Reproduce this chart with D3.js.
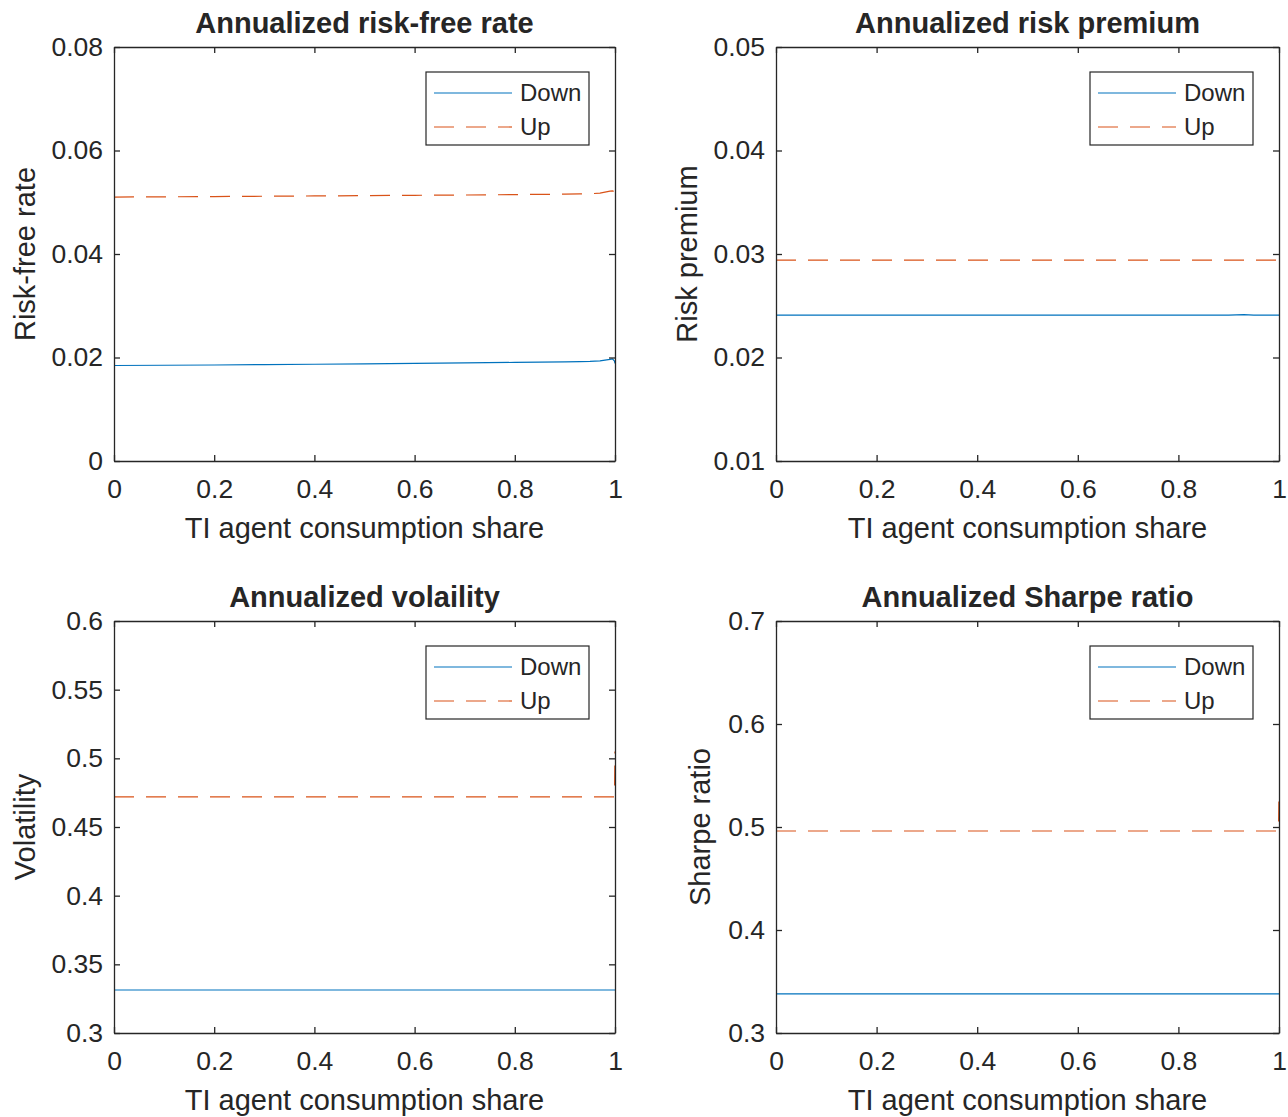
<!DOCTYPE html>
<html><head><meta charset="utf-8">
<script src="https://cdn.jsdelivr.net/npm/d3@7"></script>
<style>body{margin:0;background:#fff}svg{display:block}text{font-family:"Liberation Sans",Arial,sans-serif;fill:#262626}</style>
</head><body>
<script>
// shared x grid (TI agent consumption share)
const xShare = [0, 0.1, 0.2, 0.3, 0.4, 0.5, 0.6, 0.7, 0.8, 0.9, 0.93, 0.95, 0.97, 0.99, 0.995, 0.999, 1];

const rfDown = [0.01845, 0.01850, 0.01855, 0.01862, 0.01870, 0.01878, 0.01886, 0.01895, 0.01905, 0.01915, 0.01920, 0.01925, 0.01935, 0.01965, 0.01975, 0.01930, 0.01885];
const rfUp   = [0.05100, 0.05105, 0.05110, 0.05116, 0.05122, 0.05128, 0.05134, 0.05140, 0.05148, 0.05156, 0.05160, 0.05165, 0.05175, 0.05215, 0.05220, 0.05205, 0.05190];

const rpDown = [0.0241, 0.0241, 0.0241, 0.0241, 0.0241, 0.0241, 0.0241, 0.0241, 0.0241, 0.0241, 0.02415, 0.0241, 0.0241, 0.0241, 0.0241, 0.0241, 0.0241];
const rpUp   = [0.0294, 0.0294, 0.0294, 0.0294, 0.0294, 0.0294, 0.0294, 0.0294, 0.0294, 0.0294, 0.0294, 0.0294, 0.0294, 0.0294, 0.0294, 0.0294, 0.0294];

const volDown = [0.3313, 0.3313, 0.3313, 0.3313, 0.3313, 0.3313, 0.3313, 0.3313, 0.3313, 0.3313, 0.3313, 0.3313, 0.3313, 0.3313, 0.3313, 0.3313, 0.3313];
const volUp   = [0.4719, 0.4719, 0.4719, 0.4719, 0.4719, 0.4719, 0.4719, 0.4719, 0.4719, 0.4719, 0.4719, 0.4719, 0.4719, 0.4719, 0.4719, 0.4719, 0.5050];

const srDown = [0.3379, 0.3379, 0.3379, 0.3379, 0.3379, 0.3379, 0.3379, 0.3379, 0.3379, 0.3379, 0.3379, 0.3379, 0.3379, 0.3379, 0.3379, 0.3379, 0.3379];
const srUp   = [0.4961, 0.4961, 0.4961, 0.4961, 0.4961, 0.4961, 0.4961, 0.4961, 0.4961, 0.4961, 0.4961, 0.4961, 0.4961, 0.4961, 0.4961, 0.4961, 0.5360];

const xTicks = [0, 0.2, 0.4, 0.6, 0.8, 1];
const xTickLabels = ["0", "0.2", "0.4", "0.6", "0.8", "1"];
const rfTicks = [0, 0.02, 0.04, 0.06, 0.08];
const rfTickLabels = ["0", "0.02", "0.04", "0.06", "0.08"];
const rpTicks = [0.01, 0.02, 0.03, 0.04, 0.05];
const rpTickLabels = ["0.01", "0.02", "0.03", "0.04", "0.05"];
const volTicks = [0.3, 0.35, 0.4, 0.45, 0.5, 0.55, 0.6];
const volTickLabels = ["0.3", "0.35", "0.4", "0.45", "0.5", "0.55", "0.6"];
const srTicks = [0.3, 0.4, 0.5, 0.6, 0.7];
const srTickLabels = ["0.3", "0.4", "0.5", "0.6", "0.7"];

const seriesNames = ["Down", "Up"];
const titles = ["Annualized risk-free rate", "Annualized risk premium", "Annualized volaility", "Annualized Sharpe ratio"];
const yLabels = ["Risk-free rate", "Risk premium", "Volatility", "Sharpe ratio"];
const xLabel = "TI agent consumption share";

const W = 1288, H = 1117;
const svg = d3.select("body").append("svg").attr("width", W).attr("height", H);

const COLORS = ["#0072BD", "#D95319"];
const AX = "#262626";
const FS = 26.5;   // tick labels
const LFS = 29;    // axis labels and titles
const LEGFS = 24;

const panels = [
  {x0:114, x1:615, y0:47, y1:461, ydom:[0,0.08], yt:rfTicks, ytl:rfTickLabels, down:rfDown, up:rfUp, title:titles[0], yl:yLabels[0], ylx:25},
  {x0:776, x1:1279, y0:47, y1:461, ydom:[0.01,0.05], yt:rpTicks, ytl:rpTickLabels, down:rpDown, up:rpUp, title:titles[1], yl:yLabels[1], ylx:687},
  {x0:114, x1:615, y0:621, y1:1033, ydom:[0.3,0.6], yt:volTicks, ytl:volTickLabels, down:volDown, up:volUp, title:titles[2], yl:yLabels[2], ylx:25},
  {x0:776, x1:1279, y0:621, y1:1033, ydom:[0.3,0.7], yt:srTicks, ytl:srTickLabels, down:srDown, up:srUp, title:titles[3], yl:yLabels[3], ylx:700},
];

panels.forEach(p => {
  const x = d3.scaleLinear().domain([0,1]).range([p.x0, p.x1]);
  const y = d3.scaleLinear().domain(p.ydom).range([p.y1, p.y0]);
  const g = svg.append("g");
  const tl = 6;

  const clipId = "clip" + p.x0 + "_" + p.y0;
  svg.append("clipPath").attr("id", clipId).append("rect")
    .attr("x", p.x0).attr("y", p.y0).attr("width", p.x1 - p.x0).attr("height", p.y1 - p.y0);
  const line = d3.line().x((d,i) => x(xShare[i])).y(d => y(d));
  g.append("path").datum(p.down).attr("d", line).attr("fill","none")
    .attr("stroke", COLORS[0]).attr("stroke-width", 1.2).attr("clip-path", `url(#${clipId})`);
  g.append("path").datum(p.up).attr("d", line).attr("fill","none")
    .attr("stroke", COLORS[1]).attr("stroke-width", 1.2).attr("stroke-dasharray", "20,12").attr("clip-path", `url(#${clipId})`);

  const axB = d3.axisBottom(x).tickValues(xTicks).tickFormat((d,i)=>xTickLabels[i]).tickSizeInner(-tl).tickSizeOuter(0).tickPadding(18);
  const axT = d3.axisTop(x).tickValues(xTicks).tickFormat("").tickSizeInner(-tl).tickSizeOuter(0);
  const axL = d3.axisLeft(y).tickValues(p.yt).tickFormat((d,i)=>p.ytl[i]).tickSizeInner(-tl).tickSizeOuter(0).tickPadding(11);
  const axR = d3.axisRight(y).tickValues(p.yt).tickFormat("").tickSizeInner(-tl).tickSizeOuter(0);
  [[axB, `translate(0,${p.y1})`], [axT, `translate(0,${p.y0})`], [axL, `translate(${p.x0},0)`], [axR, `translate(${p.x1},0)`]].forEach(([a,t]) => {
    const ag = g.append("g").attr("transform", t).call(a);
    ag.selectAll(".domain").attr("stroke", AX).attr("stroke-width", 1.3);
    ag.selectAll(".tick line").attr("stroke", AX).attr("stroke-width", 1.3);
    ag.selectAll("text").attr("font-size", FS).attr("fill", AX).style("font-family", '"Liberation Sans",Arial,sans-serif');
  });

  g.append("text").attr("x", (p.x0+p.x1)/2).attr("y", p.y0 - 14.5).attr("text-anchor","middle")
    .attr("font-size", LFS).attr("font-weight","bold").text(p.title);
  g.append("text").attr("x", (p.x0+p.x1)/2).attr("y", p.y1 + 76.5).attr("text-anchor","middle")
    .attr("font-size", LFS).text(xLabel);
  g.append("text").attr("transform", `translate(${p.ylx},${(p.y0+p.y1)/2}) rotate(-90)`)
    .attr("text-anchor","middle").attr("dy","0.35em").attr("font-size", LFS).text(p.yl);

  const lx1 = p.x1 - 26, lx0 = lx1 - 163, ly0 = p.y0 + 25, ly1 = ly0 + 73;
  g.append("rect").attr("x", lx0).attr("y", ly0).attr("width", lx1-lx0).attr("height", ly1-ly0)
    .attr("fill","#fff").attr("stroke", AX).attr("stroke-width", 1.2);
  seriesNames.forEach((n, i) => {
    const yy = ly0 + 21 + i*34;
    g.append("line").attr("x1", lx0+8).attr("x2", lx0+86).attr("y1", yy).attr("y2", yy)
      .attr("stroke", COLORS[i]).attr("stroke-width", 1.2).attr("stroke-dasharray", i ? "20,12" : null);
    g.append("text").attr("x", lx0+94).attr("y", yy).attr("dy","0.35em").attr("font-size", LEGFS).text(n);
  });
});
</script>
</body></html>
